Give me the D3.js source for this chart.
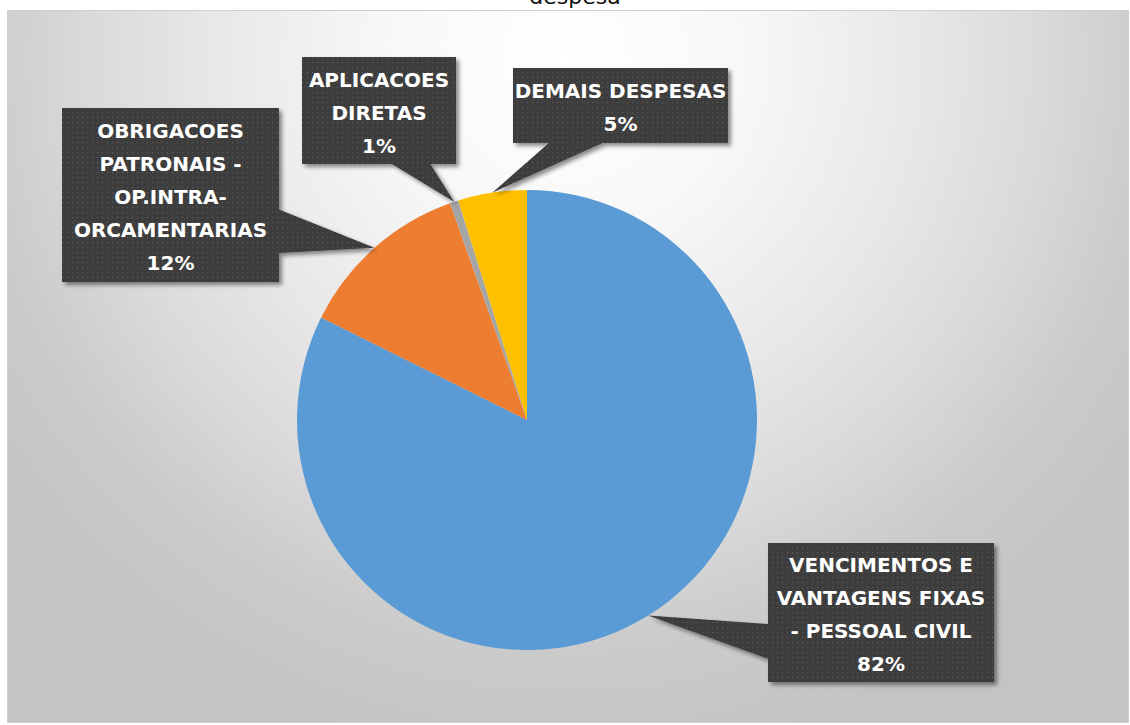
<!DOCTYPE html>
<html>
<head>
<meta charset="utf-8">
<script src="https://cdn.jsdelivr.net/npm/d3@7"></script>
<style>
  html, body { margin: 0; padding: 0; background: #ffffff; }
  svg { display: block; }
</style>
</head>
<body>
<svg id="chart" width="1130" height="725"></svg>
<script>
// ---- data ----
const categories = [
  "VENCIMENTOS E VANTAGENS FIXAS - PESSOAL CIVIL",
  "OBRIGACOES PATRONAIS - OP.INTRA-ORCAMENTARIAS",
  "APLICACOES DIRETAS",
  "DEMAIS DESPESAS"
];
const values = [82.35, 12.22, 0.60, 4.83];
const labelLines = [
  ["VENCIMENTOS E", "VANTAGENS FIXAS", "- PESSOAL CIVIL"],
  ["OBRIGACOES", "PATRONAIS -", "OP.INTRA-", "ORCAMENTARIAS"],
  ["APLICACOES", "DIRETAS"],
  ["DEMAIS DESPESAS"]
];
const colors = ["#5B9BD5", "#ED7D31", "#A5A5A5", "#FFC000"];
const titleText = "despesa";

// ---- layout (positions of the label callouts) ----
const labelBoxes = [
  { x: 768, y: 543, w: 226, h: 139 },
  { x: 62,  y: 108, w: 217, h: 174 },
  { x: 302, y: 57,  w: 154, h: 107 },
  { x: 513, y: 68,  w: 215, h: 75 }
];

const W = 1130, H = 725;
const svg = d3.select("#chart");
const defs = svg.append("defs");

// background gradient
const grad = defs.append("radialGradient")
  .attr("id", "bg").attr("gradientUnits", "userSpaceOnUse")
  .attr("cx", 565).attr("cy", 60).attr("r", 700);
[[0, "#ffffff"], [0.25, "#f8f8f8"], [0.5, "#e8e8e8"], [0.68, "#dadada"], [0.84, "#cbcbcb"], [1, "#c4c4c4"]]
  .forEach(([o, c]) => grad.append("stop").attr("offset", o).attr("stop-color", c));

// dotted pattern for callouts
const pat = defs.append("pattern").attr("id", "dots")
  .attr("patternUnits", "userSpaceOnUse").attr("width", 5).attr("height", 5);
pat.append("rect").attr("width", 5).attr("height", 5).attr("fill", "#3d3d3d");
pat.append("rect").attr("x", 2).attr("y", 2).attr("width", 1.2).attr("height", 1.2).attr("fill", "#5c5c5c");

const shadow = defs.append("filter").attr("id", "shadow")
  .attr("x", "-20%").attr("y", "-20%").attr("width", "140%").attr("height", "140%");
shadow.append("feDropShadow").attr("dx", 3).attr("dy", 3).attr("stdDeviation", 2.2)
  .attr("flood-color", "#000").attr("flood-opacity", 0.45);

// title (cut at top, as in the reference)
svg.append("text").attr("x", 575).attr("y", 4)
  .attr("text-anchor", "middle")
  .attr("font-family", "DejaVu Sans, sans-serif")
  .attr("font-size", 22).attr("fill", "#111")
  .text(titleText);

// chart area
svg.append("rect").attr("x", 7.5).attr("y", 10.5).attr("width", W - 9).attr("height", H - 13)
  .attr("fill", "url(#bg)").attr("stroke", "#cfcfcf").attr("stroke-width", 1);

// pie
const cx = 527, cy = 420, R = 230;
const pie = d3.pie().sort(null).value(d => d).startAngle(0).endAngle(2 * Math.PI);
const arcs = pie(values);
const arc = d3.arc().innerRadius(0).outerRadius(R);
const g = svg.append("g").attr("transform", `translate(${cx},${cy})`);
g.selectAll("path").data(arcs).join("path")
  .attr("d", arc).attr("fill", (d, i) => colors[i]);

const total = d3.sum(values);
const pct = d3.format(".0%");

// callouts
function callout(box, tip) {
  const hc = box.x + box.w / 2, vc = box.y + box.h / 2;
  const dx = tip[0] - hc, dy = tip[1] - vc;
  const dq = dx * box.h / box.w;
  const x1 = box.x + box.w * (dx > 0 ? 7 : 2) / 12, x2 = box.x + box.w * (dx > 0 ? 10 : 5) / 12;
  const y1 = box.y + box.h * (dy > 0 ? 7 : 2) / 12, y2 = box.y + box.h * (dy > 0 ? 10 : 5) / 12;
  const L = box.x, T = box.y, Rr = box.x + box.w, B = box.y + box.h;
  let p;
  if (Math.abs(dy) > Math.abs(dq)) {
    if (dy < 0) p = [[L, T], [x1, T], tip, [x2, T], [Rr, T], [Rr, B], [L, B]];
    else p = [[L, T], [Rr, T], [Rr, B], [x2, B], tip, [x1, B], [L, B]];
  } else {
    if (dx < 0) p = [[L, T], [Rr, T], [Rr, B], [L, B], [L, y2], tip, [L, y1]];
    else p = [[L, T], [Rr, T], [Rr, y1], tip, [Rr, y2], [Rr, B], [L, B]];
  }
  return "M" + p.map(q => q.join(",")).join("L") + "Z";
}

const lg = svg.append("g");
arcs.forEach((a, i) => {
  const mid = (a.startAngle + a.endAngle) / 2;
  const tip = [cx + R * Math.sin(mid), cy - R * Math.cos(mid)];
  const box = labelBoxes[i];
  lg.append("path").attr("d", callout(box, tip))
    .attr("fill", "url(#dots)").attr("filter", "url(#shadow)");
  const lines = labelLines[i].concat([pct(values[i] / total)]);
  const lh = 33;
  const c = box.y + box.h / 2 + 2;
  const t = lg.append("text")
    .attr("text-anchor", "middle")
    .attr("font-family", "DejaVu Sans, sans-serif")
    .attr("font-weight", "bold").attr("font-size", 20).attr("fill", "#ffffff");
  lines.forEach((ln, k) => {
    t.append("tspan").attr("x", box.x + box.w / 2)
      .attr("y", c + (k - (lines.length - 1) / 2) * lh + 7.3)
      .text(ln);
  });
});
</script>
</body>
</html>
